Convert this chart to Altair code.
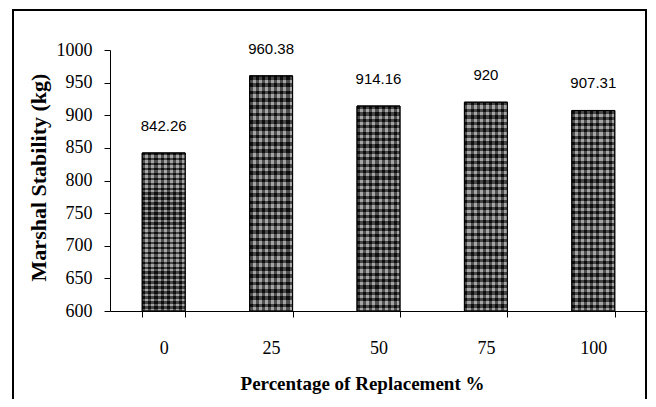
import altair as alt
import pandas as pd

categories = ["0", "25", "50", "75", "100"]
values = [842.26, 960.38, 914.16, 920, 907.31]
labels = ["842.26", "960.38", "914.16", "920", "907.31"]
y_ticks = [600, 650, 700, 750, 800, 850, 900, 950, 1000]

df = pd.DataFrame({"cat": categories, "val": values, "lab": labels})

W, H = 537, 261


def stripes(n, c1, c2, horizontal):
    stops = []
    for i in range(n):
        a = i / n
        m = (i + 0.5) / n
        b = (i + 1) / n
        stops += [alt.GradientStop(offset=a, color=c1), alt.GradientStop(offset=m, color=c1),
                  alt.GradientStop(offset=m, color=c2), alt.GradientStop(offset=b, color=c2)]
    if horizontal:
        return alt.LinearGradient(gradient="linear", stops=stops, x1=0, x2=1, y1=0, y2=0)
    return alt.LinearGradient(gradient="linear", stops=stops, x1=0, x2=0, y1=0, y2=1)


x = alt.X("cat:N", sort=categories,
          scale=alt.Scale(paddingInner=0.6, paddingOuter=0.3),
          axis=alt.Axis(title="Percentage of Replacement %", labelAngle=0,
                        tickBand="extent", titleX=252, titleY=72,
                        titleBaseline="middle", titleAlign="center", titleFontSize=19))
y = alt.Y("val:Q", scale=alt.Scale(domain=[600, 1000], zero=False, nice=False),
          axis=alt.Axis(title="Marshal Stability (kg)", values=y_ticks,
                        format="d", labelOverlap=False,
                        titleX=-72, titleY=127, titleBaseline="middle", titleAngle=-90,
                        titleAlign="center", titleFontSize=22))

base = alt.Chart(df).encode(x=x, y=y)

bars = base.mark_bar(fill=stripes(7, "#1c1c1c", "#8c8c8c", True),
                     stroke="black", strokeWidth=1).encode(y2=alt.datum(600))

overlay = base.mark_bar(fill=stripes(32, "rgba(0,0,0,0.5)", "rgba(255,255,255,0.22)", False),
                        stroke="black", strokeWidth=1).encode(y2=alt.datum(600))

text = base.mark_text(font="Liberation Sans", fontSize=15, baseline="bottom",
                      dy=-19, color="black").encode(text="lab:N")

frame = alt.Chart(df).mark_rect(fill=None, stroke="black", strokeWidth=2).encode(
    x=alt.value(-97), x2=alt.value(536), y=alt.value(-40), y2=alt.value(420))

chart = alt.layer(bars, overlay, text, frame).properties(
    width=W, height=H,
    autosize=alt.AutoSizeParams(type="none"),
    padding={"left": 102, "top": 42, "right": 1, "bottom": 88},
).configure_view(stroke=None).configure_axis(
    labelFont="Liberation Serif", labelFontSize=18, labelColor="black",
    titleFont="Liberation Serif", titleFontWeight="bold", titleColor="black",
    domainColor="black", tickColor="black", tickSize=6, grid=False, domainWidth=1, tickWidth=1,
).configure_axisY(labelPadding=12).configure_axisX(labelPadding=22)

chart.save("out.html", embed_options={"renderer": "svg", "actions": False})
